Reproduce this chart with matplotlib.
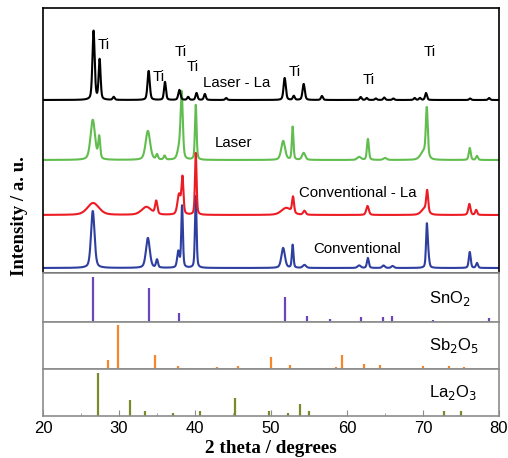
import numpy as np
import matplotlib
matplotlib.use('Agg')
from matplotlib import pyplot as plt

# 峰位(2theta), 峰高, 半高宽
black_pos = [26.65, 27.45, 29.3, 33.9, 36.05, 37.95, 39.1, 40.2, 41.3, 44.1, 51.8, 53.0, 54.3, 56.7,
             61.8, 62.6, 63.8, 64.9, 66.1, 68.9, 69.6, 70.4, 76.2, 78.7]
black_h = [69, 40, 3, 29, 18, 10, 3, 7, 6, 2, 22, 4, 16, 4, 3, 2, 1.5, 2.5, 1.5, 2, 2, 7, 1.5, 2]
black_w = [0.35, 0.3, 0.3, 0.35, 0.3, 0.35, 0.3, 0.3, 0.3, 0.3, 0.35, 0.3, 0.35, 0.3,
           0.3, 0.3, 0.3, 0.3, 0.3, 0.3, 0.3, 0.3, 0.3, 0.3]

green_pos = [26.55, 27.4, 33.8, 35.0, 36.0, 37.9, 38.25, 40.1, 51.6, 52.85, 54.3, 61.6, 62.75, 65.0,
             70.1, 70.5, 76.15, 77.1]
green_h = [40, 22, 29, 5, 4, 10, 66, 55, 19, 33, 7, 3, 21, 2, 8, 48, 12, 4]
green_w = [0.7, 0.3, 0.7, 0.3, 0.3, 0.5, 0.35, 0.25, 0.6, 0.25, 0.5, 0.6, 0.3, 0.5, 1.0, 0.3, 0.3, 0.3]

red_pos = [26.6, 33.6, 34.9, 37.9, 38.35, 40.1, 52.0, 52.9, 54.4, 62.7, 70.2, 70.55, 76.1, 77.0]
red_h = [12, 8, 13, 20, 36, 62, 7, 16, 4, 9, 6, 21, 11, 5]
red_w = [1.8, 1.5, 0.35, 0.5, 0.3, 0.25, 1.5, 0.3, 0.4, 0.4, 1.0, 0.3, 0.35, 0.3]

blue_pos = [26.55, 33.8, 35.0, 37.8, 38.3, 40.1, 51.6, 52.85, 54.4, 61.6, 62.75, 64.8, 66.0,
            70.5, 70.68, 76.15, 77.1]
blue_h = [57, 30, 8, 16, 62, 72, 20, 23, 3, 2.5, 10, 2.5, 2, 40, 12, 16, 5]
blue_w = [0.55, 0.6, 0.3, 0.35, 0.25, 0.25, 0.55, 0.25, 0.5, 0.5, 0.3, 0.4, 0.4, 0.25, 0.3, 0.3, 0.3]

# 标准卡片
sno2_pos = [26.6, 33.9, 37.95, 38.97, 51.8, 54.75, 57.8, 61.9, 64.7, 65.95, 71.3, 78.7]
sno2_h = [0.92, 0.69, 0.19, 0.03, 0.52, 0.12, 0.06, 0.10, 0.10, 0.12, 0.05, 0.08]
sb2o5_pos = [28.6, 29.9, 34.7, 37.8, 42.9, 45.7, 49.95, 52.45, 58.6, 59.4, 62.3, 64.4, 70.0, 73.4, 75.4]
sb2o5_h = [0.20, 0.93, 0.29, 0.06, 0.035, 0.07, 0.25, 0.09, 0.035, 0.29, 0.10, 0.09, 0.07, 0.06, 0.04]
la2o3_pos = [27.2, 31.5, 33.45, 37.1, 40.6, 45.2, 49.7, 52.3, 53.85, 55.0, 72.8, 75.0]
la2o3_h = [0.91, 0.34, 0.10, 0.06, 0.11, 0.38, 0.10, 0.06, 0.25, 0.10, 0.10, 0.10]

x = np.linspace(20, 80, 3000)


def pattern(pos, h, w, base):
    y = np.full_like(x, float(base))
    for p, a, fw in zip(pos, h, w):
        g = np.exp(-4 * np.log(2) * ((x - p) / fw) ** 2)
        l = 1 / (1 + 4 * ((x - p) / fw) ** 2)
        y += a * (0.6 * g + 0.4 * l)
    return y


W, H = 508, 458
fig = plt.figure(figsize=(W / 100, H / 100), dpi=100)


def px_axes(left, top, right, bottom):
    return fig.add_axes([left / W, (H - bottom) / H, (right - left) / W, (bottom - top) / H])


ax = px_axes(43, 8, 499, 273)
lw = 1.5
ax.plot(x, pattern(blue_pos, blue_h, blue_w, 5), color='#2e3f9f', lw=lw)
ax.plot(x, pattern(green_pos, green_h, green_w, 113), color='#62bd4f', lw=lw)
ax.plot(x, pattern(red_pos, red_h, red_w, 58), color='#ed1c24', lw=lw)
ax.plot(x, pattern(black_pos, black_h, black_w, 173), color='black', lw=lw)
ax.set_xlim(20, 80)
ax.set_ylim(0, 265)
ax.set_xticks([])
ax.set_yticks([])
for s in ax.spines.values():
    s.set_linewidth(1.2)

tk = dict(fontsize=10.8, family='Liberation Sans', va='center')
for tx, ty in [(27.24, 228), (34.47, 196), (37.37, 221), (38.95, 206), (52.37, 201), (62.1, 193), (70.13, 221)]:
    ax.text(tx, ty, 'Ti', **tk)
ax.text(41.05, 190, 'Laser - La', **tk)
ax.text(42.63, 130, 'Laser', **tk)
ax.text(53.68, 80, 'Conventional - La', **tk)
ax.text(55.53, 24, 'Conventional', **tk)

refs = [(273, 322, sno2_pos, sno2_h, '#6b46b8', 'SnO$_2$', 0.47),
        (322, 369, sb2o5_pos, sb2o5_h, '#f7862a', 'Sb$_2$O$_5$', 0.51),
        (369, 416, la2o3_pos, la2o3_h, '#7a8a2a', 'La$_2$O$_3$', 0.51)]
for i, (t, b, pos, hh, col, name, ly) in enumerate(refs):
    a = px_axes(43, t, 499, b)
    a.vlines(pos, 0, hh, color=col, lw=1.6)
    a.set_xlim(20, 80)
    a.set_ylim(0, 1)
    a.set_yticks([])
    for s in a.spines.values():
        s.set_color('#8c8c8c')
        s.set_linewidth(1.2)
    a.text(70.8, ly, name, fontsize=12, family='Liberation Sans', va='center')
    if i < 2:
        a.set_xticks([])
    else:
        a.set_xticks(range(20, 81, 10))
        a.set_xticks(range(25, 80, 10), minor=True)
        a.tick_params(axis='x', which='both', direction='in', color='#8c8c8c', labelsize=12)
        a.tick_params(axis='x', which='major', length=4)
        a.tick_params(axis='x', which='minor', length=2.5)
        for lb in a.get_xticklabels():
            lb.set_family('Liberation Sans')
        a.set_xlabel('2 theta / degrees', family='Liberation Serif', fontweight='bold', fontsize=13.8, labelpad=3)

fig.text(20 / W, 1 - 216 / H, 'Intensity / a. u.', rotation=90, ha='center', va='center',
         family='Liberation Serif', fontweight='bold', fontsize=13.5)

plt.savefig('out.png', dpi=100)
